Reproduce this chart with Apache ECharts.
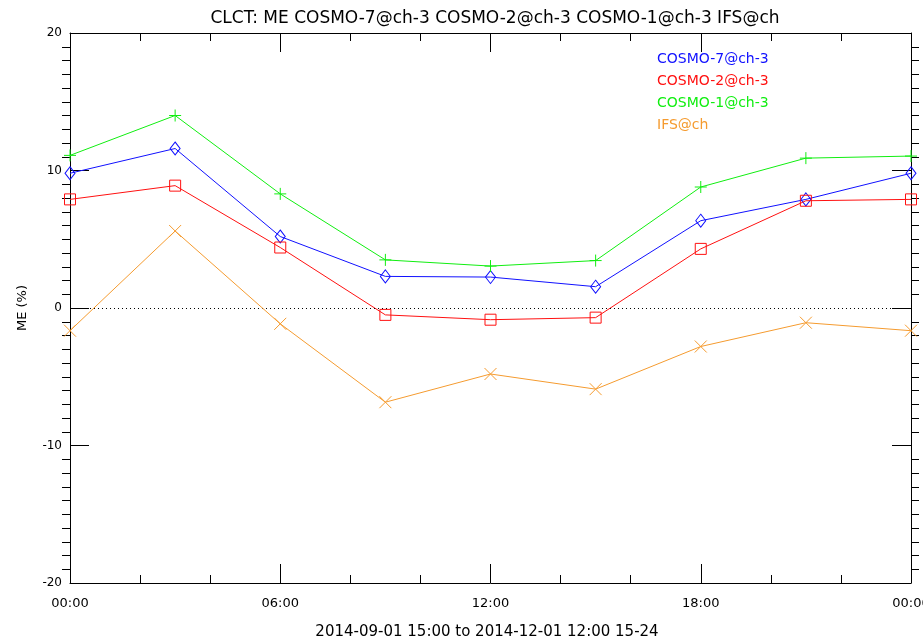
<!DOCTYPE html>
<html><head><meta charset="utf-8">
<script src="https://cdn.jsdelivr.net/npm/echarts@6/dist/echarts.min.js"></script>
<style>html,body{margin:0;padding:0;background:#fff}#c{width:923px;height:644px}</style>
</head><body><div id="c"></div>
<script>
const titleText = 'CLCT: ME COSMO-7@ch-3 COSMO-2@ch-3 COSMO-1@ch-3 IFS@ch';
const subText = '2014-09-01 15:00 to 2014-12-01 12:00 15-24';
const yName = 'ME (%)';
const hours = [0, 3, 6, 9, 12, 15, 18, 21, 24];
const xTickLabels = ['00:00', '06:00', '12:00', '18:00', '00:00'];
const seriesNames = ['COSMO-7@ch-3', 'COSMO-2@ch-3', 'COSMO-1@ch-3', 'IFS@ch'];
const cosmo7 = [9.8, 11.6, 5.2, 2.3, 2.25, 1.55, 6.35, 7.9, 9.8];
const cosmo2 = [7.9, 8.9, 4.4, -0.5, -0.85, -0.7, 4.3, 7.8, 7.9];
const cosmo1 = [11.1, 14.0, 8.3, 3.5, 3.05, 3.45, 8.8, 10.9, 11.05];
const ifs = [-1.65, 5.6, -1.15, -6.85, -4.8, -5.9, -2.8, -1.07, -1.65];

const colors = ['#1010ff', '#ff1010', '#10ee10', '#f59b2f'];
const font = 'DejaVu Sans';
const pair = arr => hours.map((h, i) => [h, arr[i]]);
const diamondPath = 'path://M5,0L10,6.5L5,13L0,6.5Z';
const squarePath = 'path://M0,0L11,0L11,11L0,11Z';
const plusPath = 'path://M0,6L12,6M6,0L6,12';
const xPath = 'path://M0,0L12,12M12,0L0,12';

const blackLine = {show: true, onZero: false, lineStyle: {color: '#000', width: 1}};
const longTick = {show: true, inside: true, length: 19, lineStyle: {color: '#000', width: 1}};

function xAx(pos, showLabel) {
  return {
    type: 'value', min: 0, max: 24, interval: 6, position: pos,
    axisLine: blackLine, axisTick: longTick, splitLine: {show: false},
    minorTick: {show: true, splitNumber: 3, length: 8, lineStyle: {color: '#000', width: 1}},
    axisLabel: showLabel ? {color: '#000', fontSize: 13, fontFamily: font, margin: 14,
      formatter: v => xTickLabels[Math.round(v / 6)]} : {show: false}
  };
}
function yAx(pos, showLabel) {
  const ax = {
    type: 'value', min: -20, max: 20, interval: 10, position: pos,
    axisLine: blackLine, axisTick: longTick, splitLine: {show: false},
    minorTick: {show: true, splitNumber: 10, length: -8, lineStyle: {color: '#000', width: 1}},
    axisLabel: showLabel ? {color: '#000', fontSize: 12, fontFamily: font, margin: 8} : {show: false}
  };
  if (showLabel) {
    ax.name = yName; ax.nameLocation = 'middle'; ax.nameGap = 41;
    ax.nameTextStyle = {color: '#000', fontSize: 13, fontFamily: font};
  }
  return ax;
}

const chart = echarts.init(document.getElementById('c'), null, {renderer: 'canvas'});
const mk = (i, data, symbol, size) => ({
  name: seriesNames[i], type: 'line', data: pair(data), xAxisIndex: 0, yAxisIndex: 0,
  symbol: symbol, symbolSize: size, showAllSymbol: true, symbolKeepAspect: false,
  lineStyle: {color: colors[i], width: 1},
  itemStyle: {color: 'rgba(0,0,0,0)', borderColor: colors[i], borderWidth: 1},
  emphasis: {disabled: true}, z: 3 + i
});
const s0 = mk(0, cosmo7, diamondPath, [10, 13]);
s0.markLine = {
  silent: true, symbol: 'none', label: {show: false},
  lineStyle: {color: '#000', type: [1, 3], width: 1},
  data: [{yAxis: 0}]
};
chart.setOption({
  animation: false,
  textStyle: {fontFamily: font},
  title: {
    text: titleText, left: 490, top: 5, textAlign: 'center',
    textStyle: {fontFamily: font, fontSize: 17, fontWeight: 'normal', color: '#000'}
  },
  grid: {left: 70, right: 12, top: 33, bottom: 61, containLabel: false, outerBoundsMode: 'none'},
  legend: {
    orient: 'vertical', left: 652, top: 52, padding: 0, itemGap: 8,
    icon: 'none', itemWidth: 0, itemHeight: 14,
    data: seriesNames.map((n, i) => ({name: n, textStyle: {color: colors[i], fontSize: 14, fontFamily: font}})),
    selectedMode: false
  },
  xAxis: [xAx('bottom', true), xAx('top', false)],
  yAxis: [yAx('left', true), yAx('right', false)],
  graphic: [{
    type: 'text', x: 487, y: 625,
    style: {text: subText, fill: '#000', font: '15px "DejaVu Sans"', textAlign: 'center', textVerticalAlign: 'top'}
  }],
  series: [
    s0,
    mk(1, cosmo2, squarePath, 11),
    mk(2, cosmo1, plusPath, 12),
    mk(3, ifs, xPath, 12)
  ]
});
</script></body></html>
